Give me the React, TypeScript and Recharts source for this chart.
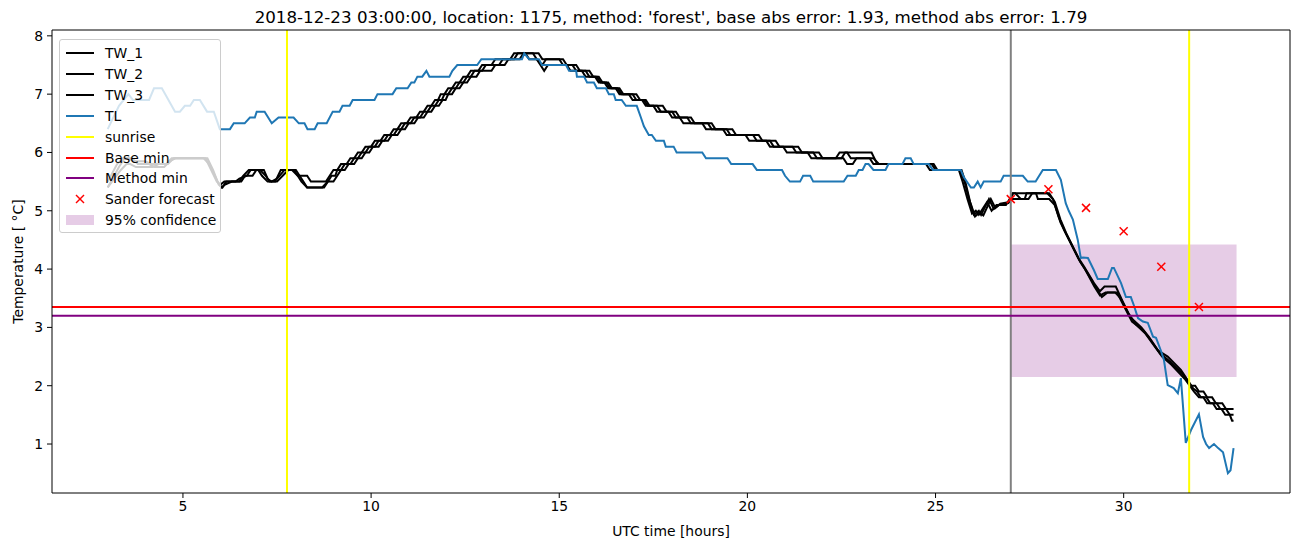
import React from 'react'
import {
  ComposedChart, Line, Scatter, XAxis, YAxis, ReferenceLine, ReferenceArea,
} from 'recharts'

// hours since 2018-12-22 00:00 UTC, temperature in °C
const tw1: [number, number][] = [
  [3.0, 5.4], [3.3, 5.75], [3.45, 5.9], [3.65, 5.9], [3.8, 5.8], [4.1, 5.8], [4.25, 5.75], [4.5, 5.75],
  [4.65, 5.85], [4.8, 5.9], [5.6, 5.9], [5.75, 5.7], [5.9, 5.5], [6.0, 5.45], [6.1, 5.5], [6.4, 5.5],
  [6.5, 5.55], [6.7, 5.6], [6.8, 5.7], [7.05, 5.7], [7.2, 5.6], [7.3, 5.5], [7.45, 5.5], [7.6, 5.7],
  [7.9, 5.7], [8.05, 5.6], [8.3, 5.6], [8.4, 5.5], [8.8, 5.5], [8.9, 5.6], [9.0, 5.7], [9.1, 5.7],
  [9.2, 5.8], [9.35, 5.8], [9.45, 5.9], [9.55, 5.9], [9.65, 6.0], [9.75, 6.0], [9.85, 6.1], [10.0, 6.1],
  [10.1, 6.2], [10.25, 6.2], [10.35, 6.3], [10.5, 6.3], [10.6, 6.4], [10.7, 6.4], [10.8, 6.5], [10.95, 6.5],
  [11.05, 6.6], [11.2, 6.6], [11.3, 6.7], [11.4, 6.7], [11.5, 6.8], [11.6, 6.8], [11.7, 6.9], [11.78, 6.9],
  [11.85, 7.0], [11.95, 7.0], [12.05, 7.1], [12.15, 7.1], [12.25, 7.2], [12.35, 7.2], [12.45, 7.3], [12.55, 7.3],
  [12.65, 7.4], [12.85, 7.4], [12.95, 7.5], [13.2, 7.5], [13.3, 7.6], [13.7, 7.6], [13.8, 7.7], [14.3, 7.7],
  [14.4, 7.6], [14.55, 7.5], [14.65, 7.6], [15.1, 7.6], [15.2, 7.5], [15.45, 7.5], [15.55, 7.4], [15.8, 7.4],
  [15.9, 7.3], [16.05, 7.3], [16.15, 7.2], [16.3, 7.2], [16.4, 7.1], [16.6, 7.1], [16.7, 7.0], [17.05, 7.0],
  [17.15, 6.9], [17.25, 6.9], [17.35, 6.8], [17.6, 6.8], [17.7, 6.7], [18.1, 6.7], [18.2, 6.6], [18.4, 6.6],
  [18.5, 6.5], [19.05, 6.5], [19.15, 6.4], [19.6, 6.4], [19.7, 6.3], [20.3, 6.3], [20.4, 6.2], [20.6, 6.2],
  [20.7, 6.1], [21.2, 6.1], [21.3, 6.0], [21.75, 6.0], [21.85, 5.9], [22.5, 5.9], [22.6, 6.0], [23.3, 6.0],
  [23.45, 5.8], [24.9, 5.8], [25.0, 5.7], [25.65, 5.7], [25.77, 5.5], [25.89, 5.2], [26.02, 4.93], [26.15, 5.0],
  [26.21, 4.93], [26.42, 5.2], [26.55, 5.03], [26.69, 5.1], [26.93, 5.13], [27.0, 5.22], [27.06, 5.3], [27.97, 5.3],
  [28.12, 5.2], [28.27, 4.9], [28.42, 4.67], [28.79, 4.2], [28.95, 4.04], [29.21, 3.76], [29.37, 3.62], [29.49, 3.7],
  [29.79, 3.7], [29.97, 3.45], [30.17, 3.18], [30.47, 3.0], [30.67, 2.84], [30.92, 2.6], [31.17, 2.5], [31.52, 2.27],
  [31.8, 2.0], [31.9, 2.0], [32.0, 1.9], [32.12, 1.9], [32.22, 1.8], [32.35, 1.8], [32.45, 1.7], [32.62, 1.7],
  [32.72, 1.6], [32.92, 1.6],
]

const tw2: [number, number][] = [
  [3.0, 5.4], [3.35, 5.7], [3.5, 5.8], [3.6, 5.8], [3.75, 5.75], [4.2, 5.75], [4.35, 5.8], [4.6, 5.8],
  [4.75, 5.9], [5.55, 5.9], [5.7, 5.8], [5.85, 5.6], [5.95, 5.45], [6.05, 5.4], [6.15, 5.5], [6.5, 5.5],
  [6.6, 5.6], [6.75, 5.7], [7.0, 5.7], [7.1, 5.6], [7.25, 5.5], [7.5, 5.5], [7.65, 5.6], [7.8, 5.7],
  [8.0, 5.7], [8.1, 5.6], [8.2, 5.5], [8.3, 5.4], [8.75, 5.4], [8.85, 5.5], [8.95, 5.6], [9.05, 5.6],
  [9.1, 5.7], [9.2, 5.7], [9.3, 5.8], [9.45, 5.8], [9.55, 5.9], [9.65, 5.9], [9.75, 6.0], [9.85, 6.0],
  [9.95, 6.1], [10.1, 6.1], [10.2, 6.2], [10.35, 6.2], [10.45, 6.3], [10.6, 6.3], [10.7, 6.4], [10.8, 6.4],
  [10.9, 6.5], [11.05, 6.5], [11.15, 6.6], [11.3, 6.6], [11.4, 6.7], [11.5, 6.7], [11.6, 6.8], [11.7, 6.8],
  [11.8, 6.9], [11.88, 6.9], [11.95, 7.0], [12.05, 7.0], [12.15, 7.1], [12.25, 7.1], [12.35, 7.2], [12.45, 7.2],
  [12.55, 7.3], [12.65, 7.3], [12.75, 7.4], [12.95, 7.4], [13.05, 7.5], [13.4, 7.5], [13.5, 7.6], [13.8, 7.6],
  [13.9, 7.7], [14.1, 7.7], [14.2, 7.6], [14.4, 7.6], [14.5, 7.5], [14.6, 7.4], [14.7, 7.5], [15.2, 7.5],
  [15.3, 7.4], [15.6, 7.4], [15.7, 7.3], [15.95, 7.3], [16.05, 7.2], [16.2, 7.2], [16.3, 7.1], [16.5, 7.1],
  [16.6, 7.0], [16.85, 7.0], [16.95, 6.9], [17.3, 6.9], [17.4, 6.8], [17.75, 6.8], [17.85, 6.7], [18.0, 6.7],
  [18.1, 6.6], [18.5, 6.6], [18.6, 6.5], [18.95, 6.5], [19.05, 6.4], [19.45, 6.4], [19.55, 6.3], [19.95, 6.3],
  [20.05, 6.2], [20.5, 6.2], [20.6, 6.1], [20.95, 6.1], [21.05, 6.0], [21.6, 6.0], [21.7, 5.9], [22.35, 5.9],
  [22.45, 6.0], [22.65, 6.0], [22.75, 5.9], [23.35, 5.9], [23.5, 5.8], [24.75, 5.8], [24.85, 5.7], [25.62, 5.7],
  [25.72, 5.5], [25.85, 5.2], [25.97, 4.95], [26.07, 5.0], [26.15, 4.93], [26.37, 5.15], [26.49, 5.0], [26.62, 5.1],
  [26.87, 5.1], [26.97, 5.2], [27.37, 5.2], [27.42, 5.3], [27.67, 5.3], [27.72, 5.2], [28.02, 5.2], [28.17, 5.1],
  [28.32, 4.8], [28.47, 4.6], [28.82, 4.15], [28.97, 4.0], [29.22, 3.7], [29.37, 3.55], [29.52, 3.6], [29.82, 3.6],
  [30.02, 3.35], [30.22, 3.1], [30.52, 2.95], [30.72, 2.78], [30.97, 2.55], [31.22, 2.42], [31.57, 2.2], [31.85, 1.95],
  [31.95, 1.9], [32.05, 1.8], [32.2, 1.8], [32.3, 1.7], [32.47, 1.7], [32.57, 1.6], [32.72, 1.6], [32.82, 1.5],
  [32.92, 1.5],
]

const tw3: [number, number][] = [
  [3.0, 5.5], [3.25, 5.8], [3.4, 5.9], [3.55, 5.9], [3.7, 5.85], [4.0, 5.85], [4.15, 5.8], [4.55, 5.8],
  [4.7, 5.9], [5.65, 5.9], [5.8, 5.7], [5.92, 5.5], [6.02, 5.4], [6.12, 5.45], [6.3, 5.5], [6.55, 5.5],
  [6.65, 5.6], [6.85, 5.6], [6.95, 5.7], [7.15, 5.7], [7.25, 5.55], [7.35, 5.5], [7.5, 5.55], [7.7, 5.7],
  [7.95, 5.7], [8.05, 5.6], [8.15, 5.5], [8.3, 5.4], [8.7, 5.4], [8.85, 5.5], [9.0, 5.5], [9.1, 5.6],
  [9.2, 5.7], [9.3, 5.7], [9.4, 5.8], [9.55, 5.8], [9.65, 5.9], [9.75, 5.9], [9.85, 6.0], [9.95, 6.0],
  [10.05, 6.1], [10.2, 6.1], [10.3, 6.2], [10.45, 6.2], [10.55, 6.3], [10.7, 6.3], [10.8, 6.4], [10.9, 6.4],
  [11.0, 6.5], [11.15, 6.5], [11.25, 6.6], [11.4, 6.6], [11.5, 6.7], [11.6, 6.7], [11.7, 6.8], [11.8, 6.8],
  [11.9, 6.9], [11.98, 6.9], [12.05, 7.0], [12.15, 7.0], [12.25, 7.1], [12.35, 7.1], [12.45, 7.2], [12.55, 7.2],
  [12.65, 7.3], [12.8, 7.3], [12.9, 7.4], [13.2, 7.4], [13.3, 7.5], [13.55, 7.5], [13.65, 7.6], [13.95, 7.6],
  [14.05, 7.7], [14.45, 7.7], [14.55, 7.6], [15.0, 7.6], [15.1, 7.5], [15.35, 7.5], [15.45, 7.4], [15.7, 7.4],
  [15.8, 7.3], [16.0, 7.3], [16.1, 7.2], [16.25, 7.2], [16.35, 7.1], [16.55, 7.1], [16.65, 7.0], [16.95, 7.0],
  [17.05, 6.9], [17.2, 6.9], [17.3, 6.8], [17.5, 6.8], [17.6, 6.7], [17.9, 6.7], [18.0, 6.6], [18.2, 6.6],
  [18.3, 6.5], [18.8, 6.5], [18.9, 6.4], [19.35, 6.4], [19.45, 6.3], [20.15, 6.3], [20.25, 6.2], [20.75, 6.2],
  [20.85, 6.1], [21.35, 6.1], [21.45, 6.0], [21.9, 6.0], [22.0, 5.9], [22.55, 5.9], [22.65, 5.8], [22.8, 5.8],
  [22.9, 5.9], [23.25, 5.9], [23.35, 5.8], [24.95, 5.8], [25.05, 5.7], [25.69, 5.7], [25.79, 5.5], [25.92, 5.15],
  [26.05, 4.9], [26.17, 4.97], [26.27, 4.92], [26.47, 5.2], [26.59, 5.05], [26.72, 5.12], [26.97, 5.15], [27.05, 5.3],
  [27.12, 5.3], [27.27, 5.2], [27.47, 5.2], [27.57, 5.3], [28.02, 5.3], [28.17, 5.15], [28.32, 4.85], [28.47, 4.62],
  [28.85, 4.12], [29.02, 3.95], [29.27, 3.68], [29.42, 3.52], [29.57, 3.6], [29.77, 3.6], [29.92, 3.5], [30.12, 3.25],
  [30.32, 3.05], [30.57, 2.9], [30.77, 2.72], [31.02, 2.5], [31.27, 2.36], [31.62, 2.12], [31.87, 1.9], [32.0, 1.8],
  [32.12, 1.8], [32.22, 1.7], [32.37, 1.7], [32.47, 1.6], [32.6, 1.6], [32.7, 1.5], [32.82, 1.5], [32.88, 1.4],
  [32.92, 1.4],
]

const tl: [number, number][] = [
  [3.0, 6.4], [3.3, 6.8], [3.55, 7.0], [3.67, 6.9], [4.1, 6.9], [4.23, 7.1], [4.44, 7.1], [4.79, 6.7],
  [4.92, 6.7], [5.05, 6.8], [5.19, 6.8], [5.29, 6.9], [5.45, 6.9], [5.64, 6.7], [5.82, 6.7], [5.98, 6.4],
  [6.25, 6.4], [6.35, 6.5], [6.64, 6.5], [6.78, 6.6], [6.91, 6.6], [6.96, 6.7], [7.17, 6.7], [7.36, 6.5],
  [7.54, 6.6], [7.94, 6.6], [8.08, 6.5], [8.23, 6.5], [8.31, 6.4], [8.5, 6.4], [8.58, 6.5], [8.82, 6.5],
  [8.98, 6.7], [9.16, 6.7], [9.24, 6.8], [9.43, 6.8], [9.51, 6.9], [10.09, 6.9], [10.17, 7.0], [10.57, 7.0],
  [10.67, 7.1], [10.97, 7.1], [11.07, 7.2], [11.15, 7.2], [11.23, 7.3], [11.36, 7.3], [11.47, 7.4], [11.55, 7.3],
  [12.08, 7.3], [12.16, 7.4], [12.29, 7.5], [12.82, 7.5], [12.93, 7.6], [14.01, 7.6], [14.07, 7.7], [14.2, 7.6],
  [14.46, 7.6], [14.54, 7.5], [15.18, 7.5], [15.26, 7.4], [15.45, 7.4], [15.47, 7.3], [15.66, 7.3], [15.74, 7.2],
  [15.92, 7.2], [16.0, 7.1], [16.24, 7.1], [16.32, 7.0], [16.45, 7.0], [16.5, 6.9], [16.66, 6.9], [16.77, 6.8],
  [17.06, 6.8], [17.17, 6.6], [17.25, 6.45], [17.38, 6.3], [17.46, 6.3], [17.57, 6.2], [17.78, 6.2], [17.83, 6.1],
  [18.04, 6.1], [18.12, 6.0], [18.8, 6.0], [18.9, 5.9], [19.47, 5.9], [19.57, 5.8], [20.14, 5.8], [20.25, 5.7],
  [20.92, 5.7], [21.0, 5.6], [21.13, 5.5], [21.4, 5.5], [21.48, 5.6], [21.67, 5.6], [21.75, 5.5], [22.56, 5.5],
  [22.66, 5.6], [22.88, 5.6], [22.96, 5.7], [23.06, 5.7], [23.14, 5.8], [23.22, 5.8], [23.35, 5.7], [23.67, 5.7],
  [23.75, 5.8], [24.12, 5.8], [24.2, 5.9], [24.34, 5.9], [24.42, 5.8], [24.82, 5.8], [24.93, 5.7], [25.67, 5.7],
  [25.75, 5.58], [25.94, 5.4], [26.02, 5.4], [26.12, 5.5], [26.2, 5.4], [26.28, 5.5], [26.73, 5.5], [26.81, 5.6],
  [27.32, 5.6], [27.45, 5.5], [27.66, 5.5], [27.85, 5.7], [28.2, 5.7], [28.33, 5.53], [28.46, 5.13], [28.54, 5.0],
  [28.65, 4.85], [28.78, 4.5], [28.86, 4.19], [28.92, 4.2], [29.05, 4.19], [29.21, 3.98], [29.31, 3.83], [29.58, 3.83],
  [29.69, 4.02], [29.74, 4.02], [29.93, 3.76], [30.06, 3.52], [30.19, 3.52], [30.27, 3.38], [30.38, 3.16], [30.51, 3.1],
  [30.64, 3.08], [30.78, 2.84], [30.86, 2.82], [30.99, 2.6], [31.07, 2.44], [31.17, 2.01], [31.33, 1.96], [31.44, 1.87],
  [31.52, 2.13], [31.65, 1.02], [31.79, 1.24], [32.0, 1.51], [32.11, 1.12], [32.19, 1.0], [32.27, 0.93], [32.4, 1.0],
  [32.51, 0.93], [32.64, 0.86], [32.77, 0.5], [32.84, 0.55], [32.92, 0.93],
]

const sanderHours = [27, 28, 29, 30, 31, 32]
const sanderTemps = [5.2, 5.37, 5.05, 4.65, 4.04, 3.35]

const sunriseHours = [7.765, 31.74]
const forecastStart = 27
const baseMin = 3.35
const methodMin = 3.2
const confidenceHours = [27, 33]
const confidenceTemps = [2.15, 4.42]

const xTicks = [5, 10, 15, 20, 25, 30]
const yTicks = [1, 2, 3, 4, 5, 6, 7, 8]
const xDomain = [1.52, 34.42]
const yDomain = [0.16, 8.1]

const title = "2018-12-23 03:00:00, location: 1175, method: 'forest', base abs error: 1.93, method abs error: 1.79"

const font = 'DejaVu Sans, sans-serif'
const toPts = (a: [number, number][]) => a.map(([t, v]) => ({ t, v }))
const sander = sanderHours.map((t, i) => ({ t, v: sanderTemps[i] }))

const Cross = (props: any) => {
  const { cx, cy } = props
  if (cx == null || cy == null) return null
  return (
    <g>
      <line x1={cx - 4} y1={cy - 4} x2={cx + 4} y2={cy + 4} stroke="red" strokeWidth={1.5} />
      <line x1={cx - 4} y1={cy + 4} x2={cx + 4} y2={cy - 4} stroke="red" strokeWidth={1.5} />
    </g>
  )
}

const legendItems = [
  { name: 'TW_1', kind: 'line', color: '#000' },
  { name: 'TW_2', kind: 'line', color: '#000' },
  { name: 'TW_3', kind: 'line', color: '#000' },
  { name: 'TL', kind: 'line', color: '#1f77b4' },
  { name: 'sunrise', kind: 'line', color: 'yellow' },
  { name: 'Base min', kind: 'line', color: 'red' },
  { name: 'Method min', kind: 'line', color: 'purple' },
  { name: 'Sander forecast', kind: 'cross', color: 'red' },
  { name: '95% confidence', kind: 'patch', color: 'rgba(128,0,128,0.2)' },
]

function ChartLegend() {
  return (
    <div style={{
      position: 'absolute', left: 59, top: 39, width: 160, height: 192,
      background: 'rgba(255,255,255,0.8)', border: '1px solid #cccccc', borderRadius: 3,
      fontFamily: font, fontSize: 13.9, color: '#000',
    }}>
      {legendItems.map((it, i) => (
        <div key={it.name} style={{ position: 'absolute', left: 0, top: 3 + i * 20.9, height: 20, width: 160 }}>
          <svg width={40} height={20} style={{ position: 'absolute', left: 0, top: 0 }}>
            {it.kind === 'line' && <line x1={6} x2={34} y1={10} y2={10} stroke={it.color} strokeWidth={2} />}
            {it.kind === 'cross' && (
              <g>
                <line x1={16} y1={6} x2={24} y2={14} stroke="red" strokeWidth={1.5} />
                <line x1={16} y1={14} x2={24} y2={6} stroke="red" strokeWidth={1.5} />
              </g>
            )}
            {it.kind === 'patch' && <rect x={6} y={5} width={28} height={10} fill={it.color} />}
          </svg>
          <span style={{ position: 'absolute', left: 45, top: 1, lineHeight: '18px', whiteSpace: 'nowrap' }}>{it.name}</span>
        </div>
      ))}
    </div>
  )
}

export default function App() {
  const tick = { fill: '#000', fontSize: 13.9, fontFamily: font }
  return (
    <div style={{ position: 'absolute', left: 0, top: 0, width: 1302, height: 547, background: '#fff' }}>
      <div style={{
        position: 'absolute', left: 52, top: 7, width: 1238, textAlign: 'center',
        fontFamily: font, fontSize: 16.7, lineHeight: '20px', color: '#000', whiteSpace: 'nowrap',
      }}>{title}</div>
      <ComposedChart width={1302} height={547} margin={{ top: 30, right: 12, bottom: 0, left: 0 }}>
        <XAxis
          type="number" dataKey="t" domain={xDomain} allowDataOverflow ticks={xTicks} interval={0}
          height={54} stroke="#000" tickSize={5} tickMargin={3} tick={tick}
          label={{ value: 'UTC time [hours]', position: 'insideBottom', offset: 11, fill: '#000', fontSize: 13.9, fontFamily: font }}
        />
        <YAxis
          type="number" domain={yDomain} allowDataOverflow ticks={yTicks} interval={0}
          width={52} stroke="#000" tickSize={5} tickMargin={4} tick={tick}
          label={{ value: 'Temperature [ °C]', angle: -90, position: 'insideLeft', offset: 18, fill: '#000', fontSize: 13.9, fontFamily: font, style: { textAnchor: 'middle' } }}
        />
        <ReferenceArea
          x1={confidenceHours[0]} x2={confidenceHours[1]} y1={confidenceTemps[0]} y2={confidenceTemps[1]}
          fill="purple" fillOpacity={0.2} stroke="none"
        />
        <Line data={toPts(tw1)} dataKey="v" stroke="#000" strokeWidth={2} dot={false} isAnimationActive={false} />
        <Line data={toPts(tw2)} dataKey="v" stroke="#000" strokeWidth={2} dot={false} isAnimationActive={false} />
        <Line data={toPts(tw3)} dataKey="v" stroke="#000" strokeWidth={2} dot={false} isAnimationActive={false} />
        <Line data={toPts(tl)} dataKey="v" stroke="#1f77b4" strokeWidth={2} dot={false} isAnimationActive={false} />
        <ReferenceLine x={forecastStart} stroke="gray" strokeWidth={2} />
        {sunriseHours.map((h) => <ReferenceLine key={h} x={h} stroke="yellow" strokeWidth={2} />)}
        <ReferenceLine y={baseMin} stroke="red" strokeWidth={2} />
        <ReferenceLine y={methodMin} stroke="purple" strokeWidth={2} />
        <ReferenceLine y={yDomain[1]} stroke="#000" strokeWidth={1} />
        <ReferenceLine x={xDomain[1]} stroke="#000" strokeWidth={1} />
        <Scatter data={sander} dataKey="v" shape={Cross} isAnimationActive={false} />
      </ComposedChart>
      <ChartLegend />
    </div>
  )
}
